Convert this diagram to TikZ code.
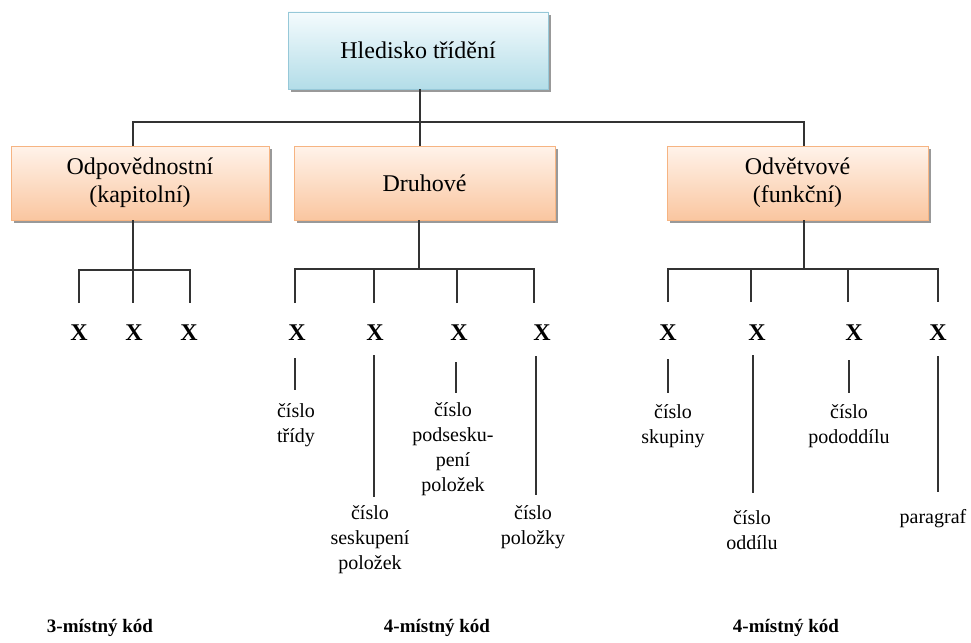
\documentclass[tikz,border=0pt]{standalone}
\usepackage{fontspec}
\setmainfont{Liberation Serif}
\usetikzlibrary{shadows}
\definecolor{topA}{HTML}{F4FBFD}
\definecolor{topB}{HTML}{B3DDE8}
\definecolor{topE}{HTML}{96C8D8}
\definecolor{orA}{HTML}{FFF3EA}
\definecolor{orB}{HTML}{FAC6A0}
\definecolor{orE}{HTML}{F6B482}
\definecolor{lineC}{HTML}{333333}
\begin{document}
\begin{tikzpicture}[x=1pt,y=-1pt,
  boxbase/.style={inner sep=0pt, align=center, font=\fontsize{24}{28}\selectfont,
     drop shadow={shadow xshift=3pt,shadow yshift=-3pt,fill=black!40,opacity=1}},
  topbox/.style={boxbase, draw=topE, line width=0.8pt, top color=topA, bottom color=topB,
     minimum width=260pt, minimum height=77pt},
  catbox/.style={boxbase, draw=orE, line width=0.8pt, top color=orA, bottom color=orB,
     minimum height=74pt},
  digit/.style={font=\fontsize{24}{28}\selectfont\bfseries, inner sep=0pt},
  lbl/.style={font=\fontsize{20}{25}\selectfont, align=center, inner sep=0pt, anchor=north},
  code/.style={font=\fontsize{19}{22}\selectfont\bfseries, inner sep=0pt},
  conn/.style={draw=lineC, line width=1.2pt}
]
\useasboundingbox (0,0) rectangle (971,642);

% boxes
\node[topbox] (top) at (418,50.5) {Hledisko třídění};
\node[catbox, minimum width=258pt] (b1) at (140,183) {Odpovědnostní\\(kapitolní)};
\node[catbox, minimum width=261pt] (b2) at (424.5,183) {Druhové};
\node[catbox, minimum width=261pt] (b3) at (797.5,183) {Odvětvové\\(funkční)};

% top-level connectors
\coordinate (j0) at (420,122);
\coordinate (j1) at (133,122);
\coordinate (j2) at (420,122);
\coordinate (j3) at (804,122);
\draw[conn] (top.south -| j0) -- (j0);
\draw[conn] (b1.north -| j1) -- (j1) -- (j3) -- (b3.north -| j3);
\draw[conn] (j2) -- (b2.north -| j2);

% digits
\node[digit] (l1) at (79,333) {X};
\node[digit] (l2) at (134,333) {X};
\node[digit] (l3) at (189,333) {X};
\node[digit] (m1) at (297,333) {X};
\node[digit] (m2) at (375,333) {X};
\node[digit] (m3) at (459,333) {X};
\node[digit] (m4) at (542,333) {X};
\node[digit] (r1) at (668,333) {X};
\node[digit] (r2) at (757,333) {X};
\node[digit] (r3) at (854,333) {X};
\node[digit] (r4) at (938,333) {X};

% left group connectors
\coordinate (hl) at (133,270);
\coordinate (la) at (79,303);
\coordinate (lb) at (133,303);
\coordinate (lc) at (190,303);
\draw[conn] (b1.south -| hl) -- (lb);
\draw[conn] (la) -- (la |- hl) -- (lc |- hl) -- (lc);

% middle group connectors
\coordinate (hm) at (419,269);
\coordinate (ma) at (295,303);
\coordinate (mb) at (374,303);
\coordinate (mc) at (457,303);
\coordinate (md) at (534,303);
\draw[conn] (b2.south -| hm) -- (hm);
\draw[conn] (ma) -- (ma |- hm) -- (md |- hm) -- (md);
\draw[conn] (mb) -- (mb |- hm);
\draw[conn] (mc) -- (mc |- hm);

% right group connectors
\coordinate (hr) at (804,269);
\coordinate (ra) at (668,302);
\coordinate (rb) at (751,302);
\coordinate (rc) at (848,302);
\coordinate (rd) at (938,302);
\draw[conn] (b3.south -| hr) -- (hr);
\draw[conn] (ra) -- (ra |- hr) -- (rd |- hr) -- (rd);
\draw[conn] (rb) -- (rb |- hr);
\draw[conn] (rc) -- (rc |- hr);

% labels
\node[lbl] (t1) at (296,403) {číslo\\třídy};
\node[lbl] (t2) at (370,505) {číslo\\seskupení\\položek};
\node[lbl] (t3) at (453,402) {číslo\\podsesku-\\pení\\položek};
\node[lbl] (t4) at (533,505) {číslo\\položky};
\node[lbl] (s1) at (673,404) {číslo\\skupiny};
\node[lbl] (s2) at (752,510) {číslo\\oddílu};
\node[lbl] (s3) at (849,404) {číslo\\pododdílu};
\node[lbl] (s4) at (933,509) {paragraf};

% label leaders
\coordinate (e1a) at (295,358); \coordinate (e1b) at (295,390);
\coordinate (e2a) at (374,355); \coordinate (e2b) at (374,497);
\coordinate (e3a) at (456,362); \coordinate (e3b) at (456,393);
\coordinate (e4a) at (536,356); \coordinate (e4b) at (536,495);
\coordinate (f1a) at (668,359); \coordinate (f1b) at (668,393);
\coordinate (f2a) at (753,355); \coordinate (f2b) at (753,493);
\coordinate (f3a) at (849,360); \coordinate (f3b) at (849,393);
\coordinate (f4a) at (938,356); \coordinate (f4b) at (938,492);
\foreach \a/\b in {e1a/e1b,e2a/e2b,e3a/e3b,e4a/e4b,f1a/f1b,f2a/f2b,f3a/f3b,f4a/f4b}
  \draw[draw=lineC, line width=1.1pt] (\a) -- (\b);

% code lengths
\node[code] (k1) at (100,628) {3-místný kód};
\node[code] (k2) at (437,628) {4-místný kód};
\node[code] (k3) at (786,628) {4-místný kód};
\end{tikzpicture}
\end{document}
